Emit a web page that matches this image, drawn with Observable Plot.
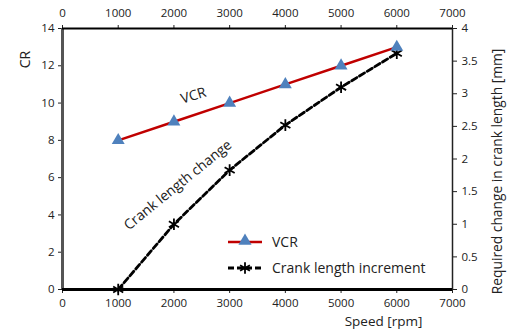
<!DOCTYPE html>
<html>
<head>
<meta charset="utf-8">
<script src="https://cdn.jsdelivr.net/npm/d3@7"></script>
<script src="https://cdn.jsdelivr.net/npm/@observablehq/plot@0.6"></script>
<style>
  html, body { margin: 0; padding: 0; background: #fff; }
  #chart { position: relative; width: 507px; height: 333px; font-family: "Open Sans", sans-serif; }
</style>
</head>
<body>
<div id="chart"></div>
<script>
const speeds = [1000, 2000, 3000, 4000, 5000, 6000];
const vcr = [8, 9, 10, 11, 12, 13];
const crankIncrement = [0, 1.0, 1.83, 2.52, 3.1, 3.62];
const xTicks = [0, 1000, 2000, 3000, 4000, 5000, 6000, 7000];
const leftTicks = [0, 2, 4, 6, 8, 10, 12, 14];
const rightTicks = [0, 0.5, 1, 1.5, 2, 2.5, 3, 3.5, 4];
const seriesNames = ["VCR", "Crank length increment"];
const annotations = [
  {x: 2350, y: 10.4, text: "VCR", rotate: -17},
  {x: 2070, y: 5.6, text: "Crank length change", rotate: -39}
];

const k = 14 / 4; // right axis -> left axis scale factor
const vcrData = speeds.map((s, i) => ({speed: s, value: vcr[i]}));
const crankData = speeds.map((s, i) => ({speed: s, value: crankIncrement[i] * k}));

const chart = Plot.plot({
  width: 507,
  height: 333,
  marginLeft: 62,
  marginRight: 55,
  marginTop: 28,
  marginBottom: 44,
  style: {fontFamily: "Open Sans, sans-serif", fontSize: "11.5px", color: "#222", background: "#fff"},
  x: {domain: [0, 7000]},
  y: {domain: [0, 14]},
  marks: [
    Plot.axisX({anchor: "bottom", ticks: xTicks, tickSize: 4, tickPadding: 5, tickFormat: d => String(d), label: null, fontSize: 11.5}),
    Plot.axisX({anchor: "top", ticks: xTicks, tickSize: 4, tickPadding: 8, tickFormat: d => String(d), label: null, fontSize: 11.5}),
    Plot.axisY({anchor: "left", ticks: leftTicks, tickSize: 4, tickPadding: 4, label: null, fontSize: 11.5}),
    Plot.axisY({anchor: "right", ticks: rightTicks.map(v => v * k), tickSize: 4, tickPadding: 5, tickFormat: d => String(+(d / k).toFixed(2)), label: null, fontSize: 11.5}),
    Plot.ruleX([0], {stroke: "#555", strokeWidth: 3}),
    Plot.ruleX([7000], {stroke: "#222", strokeWidth: 1.5}),
    Plot.ruleY([14], {stroke: "#000", strokeWidth: 2}),
    Plot.line(crankData, {x: "speed", y: "value", stroke: "#000", strokeWidth: 2.8, strokeDasharray: "6,3"}),
    Plot.dot(crankData, {x: "speed", y: "value", symbol: "asterisk", r: 5.5, stroke: "#000", strokeWidth: 1.8}),
    Plot.line(vcrData, {x: "speed", y: "value", stroke: "#c00000", strokeWidth: 2.5}),
    Plot.dot(vcrData, {x: "speed", y: "value", symbol: "triangle", r: 4.8, fill: "#4f81bd", stroke: "none"}),
    Plot.ruleY([0], {stroke: "#000", strokeWidth: 3}),
    Plot.text(annotations, {x: "x", y: "y", text: "text", rotate: "rotate", fontSize: 14, fill: "#222", textAnchor: "middle", lineAnchor: "middle"}),
    Plot.text(["CR"], {frameAnchor: "top-left", dx: -42, dy: 31, rotate: -90, fontSize: 14, fill: "#222", textAnchor: "middle"}),
    Plot.text(["Required change in crank length [mm]"], {frameAnchor: "right", dx: 45, dy: 12.5, rotate: -90, fontSize: 13.8, fill: "#222", textAnchor: "middle"}),
    Plot.text(["Speed [rpm]"], {frameAnchor: "bottom", dx: 126, dy: 36, fontSize: 13.5, fill: "#222", textAnchor: "middle"})
  ]
});
document.getElementById("chart").appendChild(chart);

// Legend overlay
const ns = "http://www.w3.org/2000/svg";
const leg = document.createElementNS(ns, "svg");
leg.setAttribute("width", 240);
leg.setAttribute("height", 50);
leg.setAttribute("style", "position:absolute;left:226px;top:230px;font-family:'Open Sans',sans-serif;");
leg.innerHTML = `
  <line x1="2" x2="36" y1="12" y2="12" stroke="#c00000" stroke-width="2.5"/>
  <path d="${d3.symbol(d3.symbolTriangle, 75)()}" transform="translate(19,11)" fill="#4f81bd"/>
  <text x="46" y="12" dy="0.35em" font-size="14" fill="#222">${seriesNames[0]}</text>
  <line x1="2" x2="36" y1="38" y2="38" stroke="#000" stroke-width="2.8" stroke-dasharray="6,3"/>
  <path d="${d3.symbol(d3.symbolAsterisk, 90)()}" transform="translate(19,38)" fill="none" stroke="#000" stroke-width="1.8"/>
  <text x="46" y="38" dy="0.35em" font-size="14" fill="#222">${seriesNames[1]}</text>
`;
document.getElementById("chart").appendChild(leg);
</script>
</body>
</html>
